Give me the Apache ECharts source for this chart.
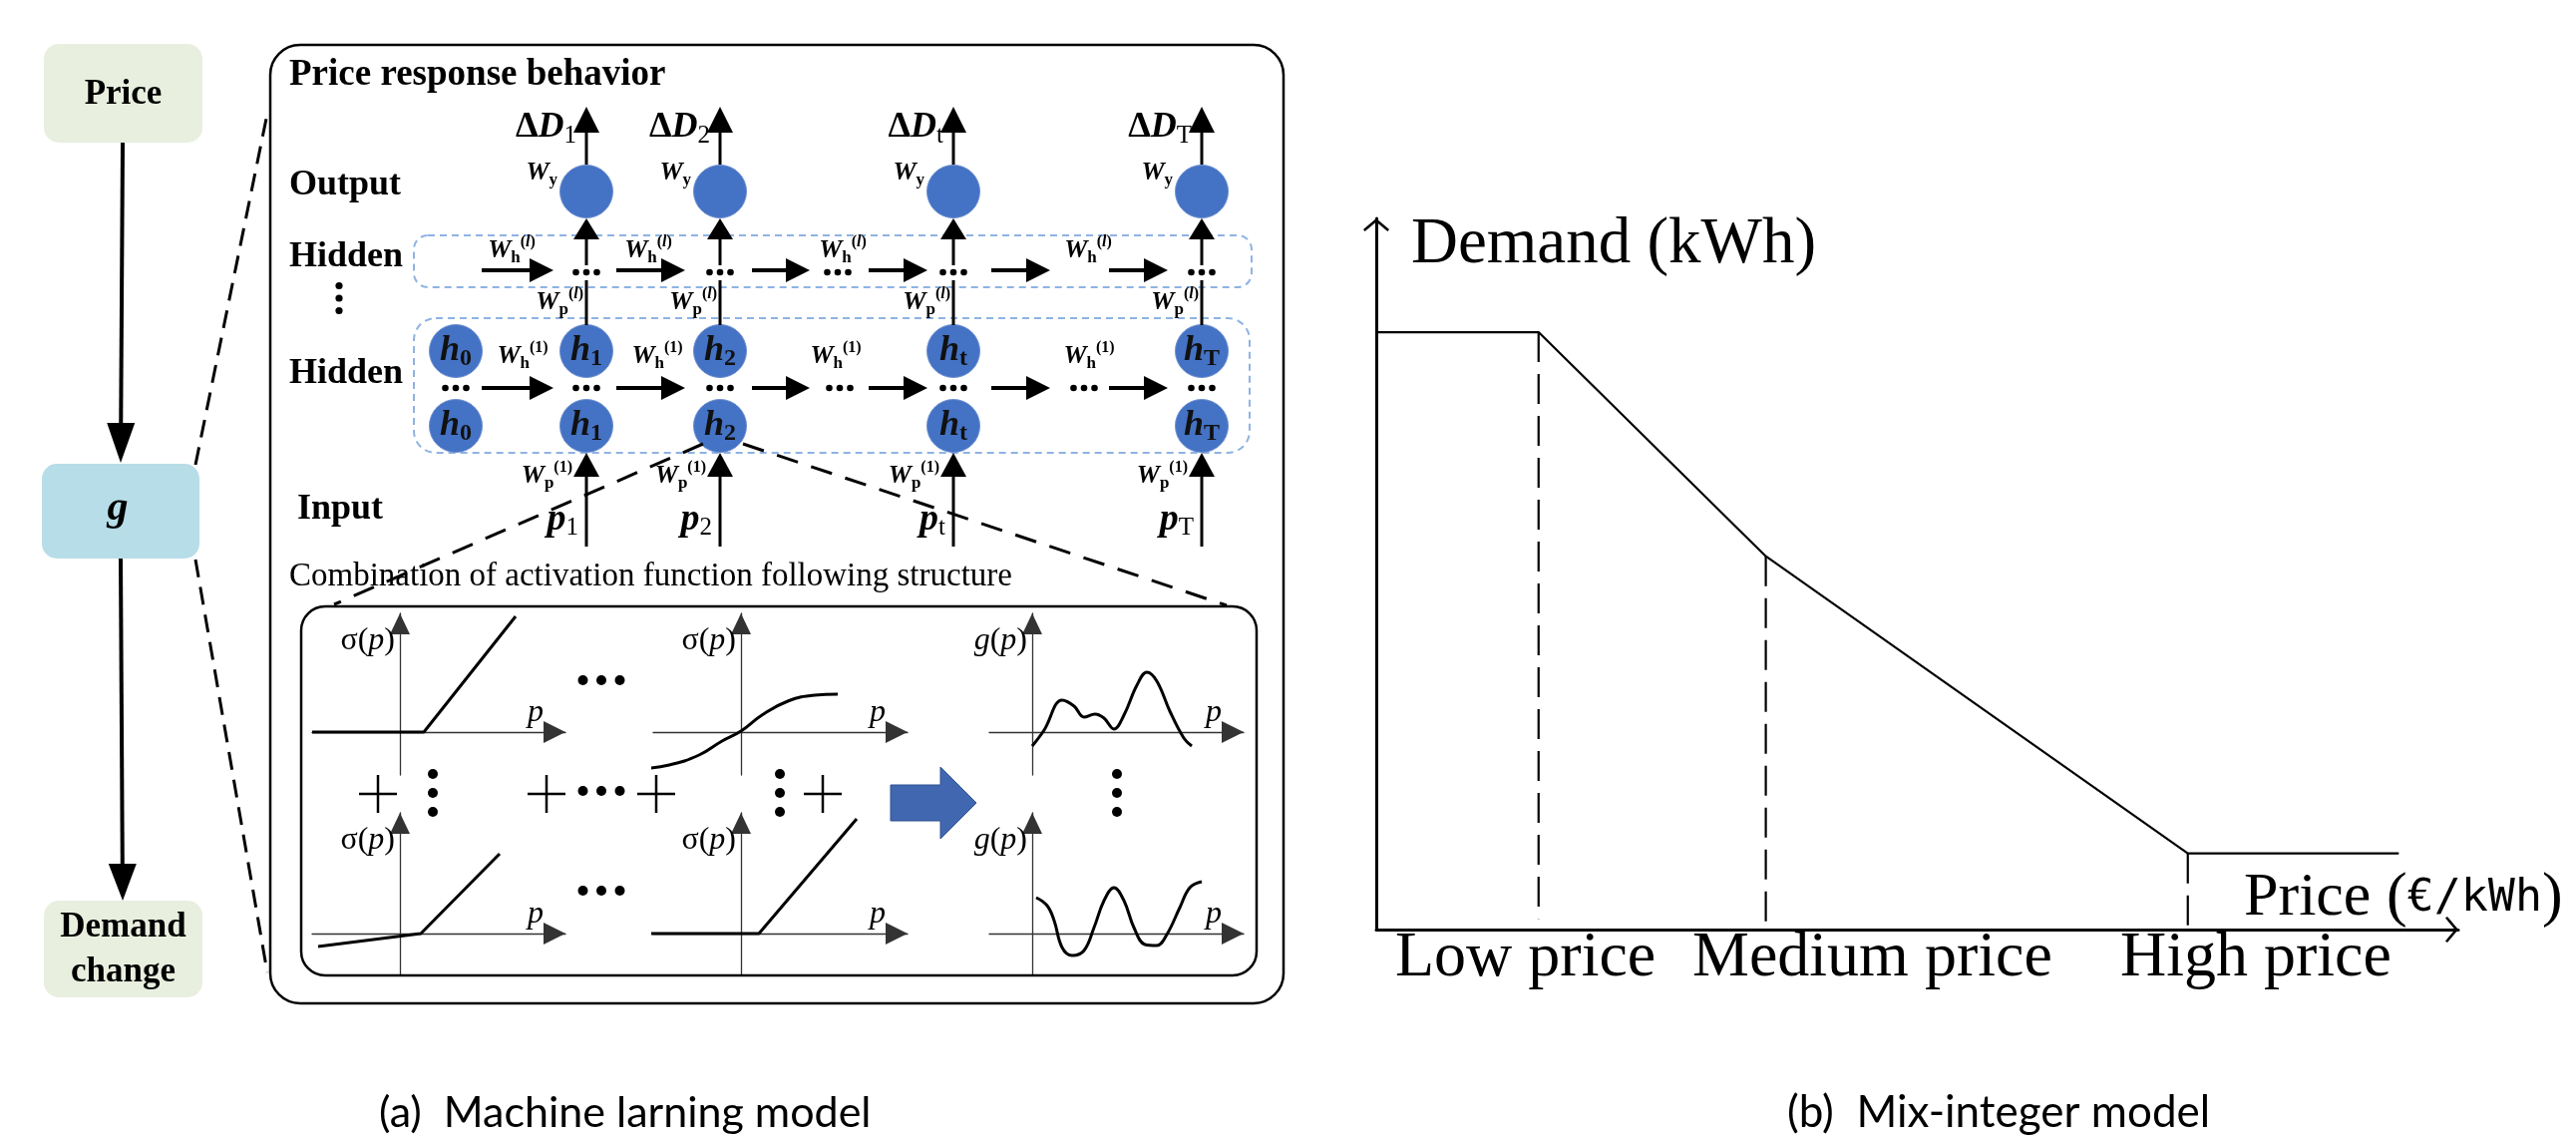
<!DOCTYPE html>
<html><head><meta charset="utf-8">
<script src="https://cdn.jsdelivr.net/npm/echarts@6/dist/echarts.min.js"></script>
<style>html,body{margin:0;padding:0;background:#fff}#c{width:2583px;height:1142px}</style>
</head><body><div id="c"></div>
<script>
// ================= DATA =================
const flowSteps = ['Price', 'g', 'Demand\nchange'];
const panelTitle = 'Price response behavior';
const rowLabels = ['Output', 'Hidden', 'Hidden', 'Input'];
const timeSteps = ['1', '2', 't', 'T'];          // input / output time steps
const hiddenStates = ['0', '1', '2', 't', 'T'];   // hidden state indices
const subPanelTitle = 'Combination of activation function following structure';
const captions = ['(a)  Machine larning model', '(b)  Mix-integer model'];

// right panel: piecewise-linear demand curve (axis units 0-100)
const priceLevels = ['Low price', 'Medium price', 'High price'];
const curvePrice  = [0, 15, 36, 75, 94.5];
const curveDemand = [84, 84, 52.5, 10.7, 10.7];
const breakPrice       = [15, 36, 75];
const breakDemandTop   = [84, 52.5, 10.7];
const breakDemandBottom = [1.5, 0, 0];
const yAxisName = 'Demand (kWh)';
const xAxisName = ['Price (', '€/kWh', ')'];

// activation sketches: [p, value] relative to each small plot origin
const reluTop    = [[-88, 0], [24, 0], [116, 116]];
const sigmoidTop = [[-103, -37], [-72, -33], [-42, -23], [-19, -9], [0, 1], [21, 17], [47, 31], [74, 37], [97, 38]];
const gTop = [[0, -14], [12, 2], [30, 32], [42, 26], [52, 15], [63, 18], [72, 14], [82, 3], [92, 17], [105, 47],
              [115, 60], [125, 51], [138, 21], [152, -6], [160, -14]];
const leakyBottom = [[-82, -13], [21, 0], [100, 80]];
const reluBottom  = [[-101, 0], [18, 0], [116, 115]];
const gBottom = [[4, 36], [15, 28], [22, 13], [30, -14], [40, -22], [52, -17], [62, 6], [72, 33], [82, 46], [92, 33],
                 [102, 6], [113, -11], [125, -12], [135, -1], [148, 26], [158, 46], [170, 52]];

// ================= LAYOUT / STYLE =================
const SERIF = '"Liberation Serif","Times New Roman",serif';
const SANS = 'Lato,"Noto Sans",sans-serif';
const MONO = '"DejaVu Sans Mono",monospace';
const BLUE = '#4472c4';
const DASHBLUE = '#8fb3e3';

const G = [];
function poly(pts, o) {
  o = o || {};
  G.push({type: 'polyline', silent: true, z: o.z || 5, shape: {points: pts, smooth: o.smooth || 0},
    style: {stroke: o.color || '#000', lineWidth: o.lw || 3, fill: 'none', lineDash: o.dash || null, lineCap: o.cap || 'butt'}});
}
function tri(pts, fill) {
  G.push({type: 'polygon', silent: true, z: 6, shape: {points: pts}, style: {fill: fill || '#000'}});
}
function arrow(x1, y1, x2, y2, len, half, lw) {
  const dx = x2 - x1, dy = y2 - y1, L = Math.hypot(dx, dy), ux = dx / L, uy = dy / L;
  poly([[x1, y1], [x2 - ux * len * 0.7, y2 - uy * len * 0.7]], {lw: lw});
  const bx = x2 - ux * len, by = y2 - uy * len, px = -uy, py = ux;
  tri([[x2, y2], [bx + px * half, by + py * half], [bx - px * half, by - py * half]]);
}
function dot(cx, cy, r) { G.push({type: 'circle', silent: true, z: 6, shape: {cx, cy, r}, style: {fill: '#000'}}); }
function dotsH(cx, cy, gap, r) { dot(cx - gap, cy, r); dot(cx, cy, r); dot(cx + gap, cy, r); }
function dotsV(cx, cy, gap, r) { dot(cx, cy - gap, r); dot(cx, cy, r); dot(cx, cy + gap, r); }
function rrect(x, y, w, h, r, o) {
  o = o || {};
  G.push({type: 'rect', silent: true, z: o.z || 2, shape: {x, y, width: w, height: h, r},
    style: {fill: o.fill || 'none', stroke: o.stroke || null, lineWidth: o.lw || 0, lineDash: o.dash || null}});
}
function txt(x, y, text, o) {
  o = o || {};
  const st = {text, fill: o.fill || '#000', align: o.align || 'left', verticalAlign: o.va || 'middle',
    fontFamily: o.family || SERIF, fontSize: o.size || 32, fontWeight: o.weight || 'normal',
    fontStyle: o.fstyle || 'normal'};
  if (o.lh) st.lineHeight = o.lh;
  if (o.rich) st.rich = o.rich;
  G.push({type: 'text', silent: true, z: 10, x, y, style: st});
}
function circ(cx, cy, r, fill) {
  G.push({type: 'circle', silent: true, z: 4, shape: {cx, cy, r}, style: {fill: fill, stroke: '#6d8fd0', lineWidth: 1}});
}
const rs = (size, extra) => Object.assign({fontFamily: SERIF, fontSize: size}, extra || {});

const richW = {
  w: rs(26, {fontWeight: 'bold', fontStyle: 'italic', lineHeight: 32}),
  s: rs(17, {fontWeight: 'bold', lineHeight: 15, verticalAlign: 'bottom'}),
  u: rs(16, {fontWeight: 'bold', lineHeight: 15, verticalAlign: 'top'}),
  ui: rs(16, {fontWeight: 'bold', fontStyle: 'italic', lineHeight: 15, verticalAlign: 'top'})
};
const richH = {
  h: rs(36, {fontWeight: 'bold', fontStyle: 'italic', lineHeight: 40, fill: '#111'}),
  s: rs(24, {fontWeight: 'bold', lineHeight: 22, verticalAlign: 'bottom', fill: '#111'})
};
const richD = {
  a: rs(36, {fontWeight: 'bold', lineHeight: 42}),
  b: rs(36, {fontWeight: 'bold', fontStyle: 'italic', lineHeight: 42}),
  s: rs(25, {lineHeight: 22, verticalAlign: 'bottom'})
};
const richP = {
  p: rs(38, {fontWeight: 'bold', fontStyle: 'italic', lineHeight: 42}),
  s: rs(25, {lineHeight: 22, verticalAlign: 'bottom'})
};
const richS = { n: rs(32, {}), i: rs(32, {fontStyle: 'italic'}) };
const Wl = '{w|W}{s|%}{u|(}{ui|l}{u|)}';
const W1 = '{w|W}{s|%}{u|(1)}';

// ---------- left flow ----------
const flowBoxes = [
  {x: 44, y: 44, w: 159, h: 99, fill: '#e8efdf'},
  {x: 42, y: 465, w: 158, h: 95, fill: '#b7dde8'},
  {x: 44, y: 903, w: 159, h: 97, fill: '#e8efdf'}
];
flowBoxes.forEach((b, i) => {
  rrect(b.x, b.y, b.w, b.h, 15, {fill: b.fill, z: 1});
  const cx = b.x + b.w / 2, cy = b.y + b.h / 2;
  if (i === 1) txt(cx - 3, cy - 2, flowSteps[i], {align: 'center', size: 42, weight: 'bold', fstyle: 'italic'});
  else txt(cx, cy + 1, flowSteps[i], {align: 'center', size: 35, weight: 'bold', lh: 45});
});
arrow(123, 143, 121, 464, 40, 14, 4);
arrow(121, 560, 123, 903, 37, 14, 4);
poly([[196, 466], [268, 114]], {lw: 3, dash: [18, 10]});
poly([[196, 561], [268, 975]], {lw: 3, dash: [18, 10]});

// ---------- main panel ----------
rrect(271, 45, 1016, 961, 30, {stroke: '#000', lw: 2.5});
txt(290, 75, panelTitle, {size: 37, weight: 'bold'});
const rowY = [186, 258, 375, 511];
rowLabels.forEach((t, i) => txt(i === 3 ? 298 : 290, rowY[i], t, {size: 36, weight: 'bold'}));
dotsV(340, 299, 12.5, 3.6);

rrect(415, 236, 840, 52, 14, {stroke: DASHBLUE, lw: 2, dash: [7, 5]});
rrect(415, 319, 838, 135, 22, {stroke: DASHBLUE, lw: 2, dash: [7, 5]});

const outCols = [588, 722, 956, 1205];
const hidCols = [457, 588, 722, 956, 1205];
outCols.forEach((cx, i) => {
  circ(cx, 192, 26.5, BLUE);
  arrow(cx, 165, cx, 107, 26, 13, 3);
  txt(cx - 10, 128, '{a|Δ}{b|D}{s|' + timeSteps[i] + '}', {align: 'right', rich: richD});
  txt(cx - 29, 173, '{w|W}{s|y}', {align: 'right', rich: richW});
  // connection from hidden layer 1 to output
  poly([[cx, 326], [cx, 281]], {lw: 3});
  arrow(cx, 266, cx, 219, 21, 13, 3);
  txt(cx - 3, 303, Wl.replace('%', 'p'), {align: 'right', rich: richW});
  // input arrows
  arrow(cx, 548, cx, 454, 24, 13, 3);
  txt(cx - 14, 477, W1.replace('%', 'p'), {align: 'right', rich: richW});
  txt(cx - 8, 521, '{p|p}{s|' + timeSteps[i] + '}', {align: 'right', rich: richP});
});
hidCols.forEach((cx, i) => {
  [352, 427].forEach(cy => {
    circ(cx, cy, 26.5, BLUE);
    txt(cx, cy, '{h|h}{s|' + hiddenStates[i] + '}', {align: 'center', rich: richH});
  });
});
// recurrent rows
const arrowSegs = [[483, 555], [618, 687], [754, 812], [871, 930], [994, 1053], [1112, 1171]];
arrowSegs.forEach(s => { arrow(s[0], 271, s[1], 271, 24, 12, 4); arrow(s[0], 389, s[1], 389, 24, 12, 4); });
[588, 722, 840, 956, 1205].forEach(cx => dotsH(cx, 273, 10.5, 3.3));
[457, 588, 722, 842, 956, 1087, 1205].forEach(cx => dotsH(cx, 389, 10.5, 3.3));
[513, 650, 845, 1091].forEach(cx => txt(cx, 251, Wl.replace('%', 'h'), {align: 'center', rich: richW}));
[524, 659, 838, 1092].forEach(cx => txt(cx, 357, W1.replace('%', 'h'), {align: 'center', rich: richW}));

txt(290, 578, subPanelTitle, {size: 33});
poly([[705, 445], [335, 606]], {lw: 3, dash: [22, 14], z: 11});
poly([[745, 445], [1230, 607]], {lw: 3, dash: [22, 14], z: 11});

// ---------- activation sub-panel ----------
rrect(302, 608, 958, 370, 24, {stroke: '#000', lw: 2.5});
const plots = [
  {ox: 401, oy: 734, xl: 313, xr: 567, yt: 615, yb: 777, data: reluTop, smooth: 0, lab: 's'},
  {ox: 743, oy: 734, xl: 655, xr: 910, yt: 615, yb: 777, data: sigmoidTop, smooth: 0.45, lab: 's'},
  {ox: 1035, oy: 734, xl: 992, xr: 1247, yt: 615, yb: 777, data: gTop, smooth: 0.4, lab: 'g'},
  {ox: 401, oy: 936, xl: 313, xr: 567, yt: 815, yb: 978, data: leakyBottom, smooth: 0, lab: 's'},
  {ox: 743, oy: 936, xl: 655, xr: 910, yt: 815, yb: 978, data: reluBottom, smooth: 0, lab: 's'},
  {ox: 1035, oy: 936, xl: 992, xr: 1247, yt: 815, yb: 978, data: gBottom, smooth: 0.4, lab: 'g'}
];
plots.forEach(p => {
  const lab = p.lab === 's' ? '{n|σ(}{i|p}{n|)}' : '{i|g}{n|(}{i|p}{n|)}';
  txt(p.ox - 5, p.yt + 28, lab, {align: 'right', rich: richS});
  txt(p.xr - 30, p.oy - 19, '{i|p}', {align: 'center', rich: richS});
});
[379, 548, 658, 825].forEach(cx => {
  poly([[cx - 19, 796], [cx + 19, 796]], {lw: 2.5});
  poly([[cx, 777], [cx, 815]], {lw: 2.5});
});
[434, 782, 1120].forEach(cx => dotsV(cx, 795, 19, 5));
[682, 793, 893].forEach(cy => dotsH(603, cy, 18.5, 5));
G.push({type: 'polygon', silent: true, z: 6,
  shape: {points: [[893, 787], [943, 787], [943, 769], [979, 805], [943, 841], [943, 823], [893, 823]]},
  style: {fill: '#4267b1', stroke: '#2f528f', lineWidth: 1}});

// ---------- right panel texts ----------
txt(1415, 246, yAxisName, {size: 65});
const levelX = [1399, 1697, 2126];
priceLevels.forEach((t, i) => txt(levelX[i], 961, t, {size: 64}));
txt(2250, 901, '{s|' + xAxisName[0] + '}{m|' + xAxisName[1] + '}{s|' + xAxisName[2] + '}',
  {rich: {s: rs(62, {lineHeight: 66}), m: {fontFamily: MONO, fontSize: 45, lineHeight: 66}}});

// captions
txt(380, 1116, captions[0], {family: SANS, size: 43});
txt(1792, 1116, captions[1], {family: SANS, size: 44});

// ================= ECharts grids / series =================
const grids = [], xAxes = [], yAxes = [], series = [];
function blankAxis(extra) {
  return Object.assign({type: 'value', axisTick: {show: false}, axisLabel: {show: false}, splitLine: {show: false}}, extra);
}
plots.forEach((p, i) => {
  grids.push({left: p.xl, top: p.yt, width: p.xr - p.xl, height: p.yb - p.yt});
  xAxes.push(blankAxis({gridIndex: i, min: p.xl - p.ox, max: p.xr - p.ox,
    axisLine: {show: true, onZero: true, lineStyle: {color: '#333', width: 1.3},
      symbol: ['none', 'triangle'], symbolSize: [22, 22], symbolOffset: [0, -11]}}));
  yAxes.push(blankAxis({gridIndex: i, min: p.oy - p.yb, max: p.oy - p.yt,
    axisLine: {show: true, onZero: true, lineStyle: {color: '#333', width: 1.3},
      symbol: ['none', 'triangle'], symbolSize: [20, 21], symbolOffset: [0, -10.5]}}));
  series.push({type: 'line', xAxisIndex: i, yAxisIndex: i, data: p.data, symbol: 'none', smooth: p.smooth,
    clip: false, silent: true, lineStyle: {color: '#000', width: 3}, z: 3});
});
// right panel chart
const RG = plots.length;
const chevron = 'path://M13,0 L26,11 L24.4,13 L13,3.4 L1.6,13 L0,11 Z';
grids.push({left: 1380, top: 219, width: 1085, height: 713});
xAxes.push(blankAxis({gridIndex: RG, min: 0, max: 100,
  axisLine: {show: true, onZero: true, lineStyle: {color: '#000', width: 3},
    symbol: ['none', chevron], symbolSize: [27, 13], symbolOffset: [0, -6.5]}}));
yAxes.push(blankAxis({gridIndex: RG, min: 0, max: 100,
  axisLine: {show: true, onZero: true, lineStyle: {color: '#000', width: 3},
    symbol: ['none', chevron], symbolSize: [26, 13], symbolOffset: [0, -6.5]}}));
series.push({type: 'line', name: 'Demand', xAxisIndex: RG, yAxisIndex: RG, symbol: 'none', silent: true,
  data: curvePrice.map((p, i) => [p, curveDemand[i]]), lineStyle: {color: '#000', width: 2.2}, z: 3});
breakPrice.forEach((p, i) => {
  series.push({type: 'line', xAxisIndex: RG, yAxisIndex: RG, symbol: 'none', silent: true,
    data: [[p, breakDemandTop[i]], [p, breakDemandBottom[i]]],
    lineStyle: {color: '#000', width: 2.2, type: [30, 12]}, z: 3});
});

const chart = echarts.init(document.getElementById('c'), null, {renderer: 'canvas', width: 2583, height: 1142});
chart.setOption({
  animation: false,
  backgroundColor: '#fff',
  grid: grids, xAxis: xAxes, yAxis: yAxes, series: series,
  graphic: {elements: G}
});
</script></body></html>
